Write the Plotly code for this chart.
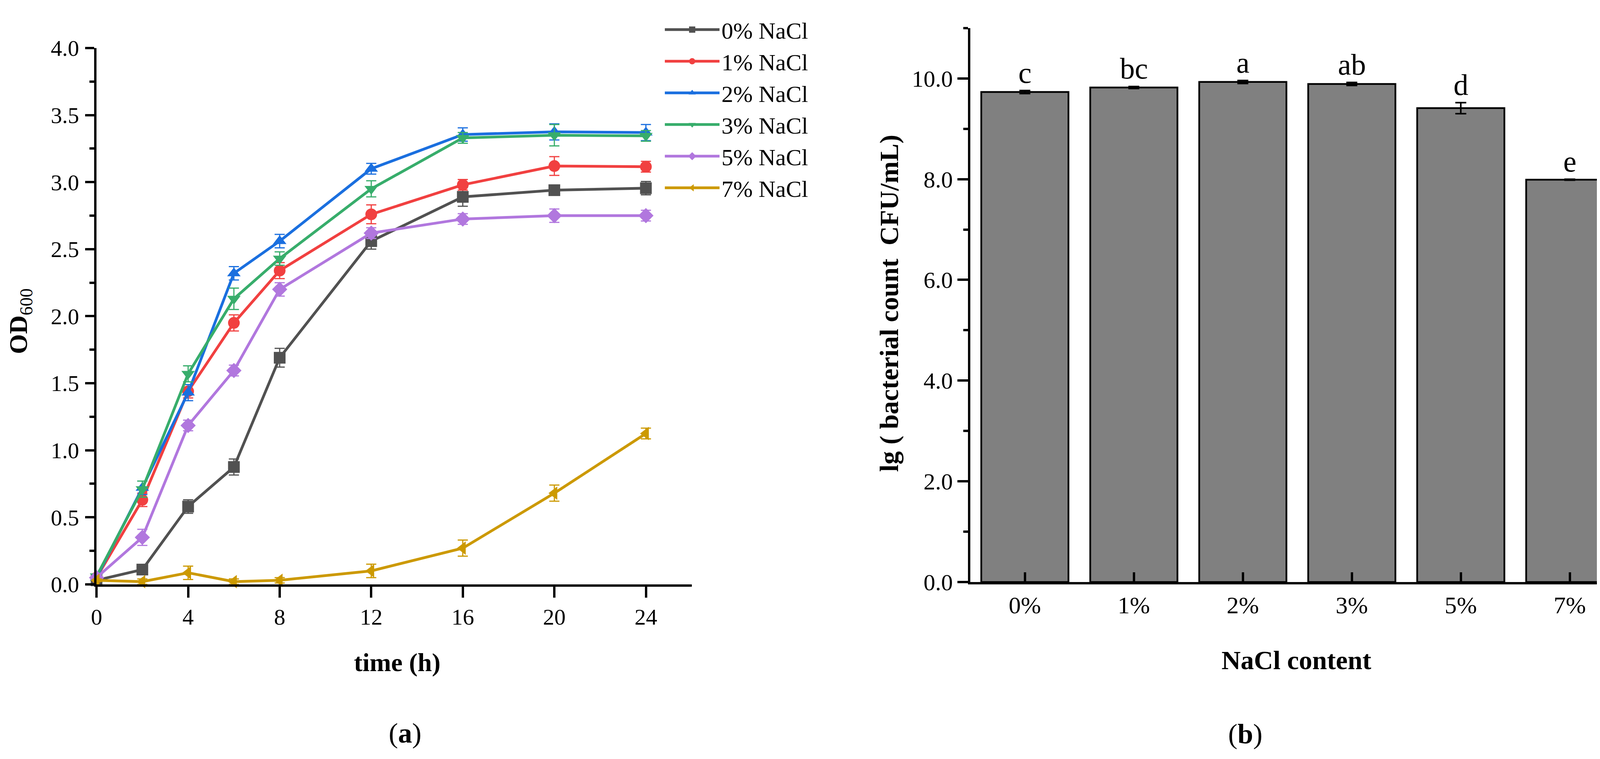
import plotly.graph_objects as go

# panel (a): growth curves, OD600 vs time
time_h = [0, 2, 4, 6, 8, 12, 16, 20, 24]
series_names = ['0% NaCl', '1% NaCl', '2% NaCl', '3% NaCl', '5% NaCl', '7% NaCl']

od_0 = [0.03, 0.11, 0.58, 0.875, 1.69, 2.56, 2.89, 2.94, 2.955]
od_1 = [0.05, 0.63, 1.44, 1.95, 2.34, 2.76, 2.98, 3.12, 3.115]
od_2 = [0.05, 0.72, 1.43, 2.32, 2.56, 3.10, 3.355, 3.375, 3.37]
od_3 = [0.06, 0.71, 1.57, 2.13, 2.43, 2.95, 3.33, 3.35, 3.345]
od_5 = [0.05, 0.35, 1.185, 1.595, 2.20, 2.62, 2.725, 2.75, 2.75]
od_7 = [0.03, 0.02, 0.086, 0.02, 0.03, 0.10, 0.27, 0.68, 1.125]

err_0 = [0.01, 0.03, 0.05, 0.06, 0.07, 0.06, 0.07, 0.03, 0.05]
err_1 = [0.01, 0.05, 0.05, 0.06, 0.06, 0.07, 0.04, 0.07, 0.04]
err_2 = [0.01, 0.05, 0.06, 0.05, 0.05, 0.04, 0.05, 0.06, 0.06]
err_3 = [0.01, 0.06, 0.06, 0.08, 0.05, 0.06, 0.04, 0.08, 0.04]
err_5 = [0.01, 0.06, 0.04, 0.04, 0.05, 0.04, 0.04, 0.05, 0.04]
err_7 = [0.01, 0.02, 0.05, 0.02, 0.02, 0.05, 0.06, 0.06, 0.04]

# panel (b): viable counts
nacl_labels = ['0%', '1%', '2%', '3%', '5%', '7%']
lg_count = [9.73, 9.82, 9.93, 9.89, 9.41, 7.99]
lg_err = [0.03, 0.02, 0.03, 0.03, 0.11, 0.01]
sig_letters = ['c', 'bc', 'a', 'ab', 'd', 'e']

FONT = 'Liberation Serif, Times New Roman, serif'
colors = ['#515151', '#F14040', '#1A6FDF', '#37AD6B', '#B177DE', '#CC9900']
symbols = ['square', 'circle', 'triangle-up', 'triangle-down', 'diamond', 'triangle-left']

W, H = 4178, 1943
PAGE_OFF = 8  # default body margin of the html page


def px(x):
    return (x - PAGE_OFF) / W


def py(y):
    return 1 - (y - PAGE_OFF) / H


fig = go.Figure()

od_series = [od_0, od_1, od_2, od_3, od_5, od_7]
err_series = [err_0, err_1, err_2, err_3, err_5, err_7]
for name, ys, es, col, sym in zip(series_names, od_series, err_series, colors, symbols):
    fig.add_trace(go.Scatter(
        x=time_h, y=ys, name=name, mode='lines+markers',
        line=dict(color=col, width=7),
        marker=dict(symbol=sym, size=30, color=col),
        error_y=dict(type='data', array=es, color=col, thickness=3, width=13),
        cliponaxis=False,
        xaxis='x', yaxis='y',
    ))

fig.add_trace(go.Bar(
    x=nacl_labels, y=lg_count, width=0.8,
    marker=dict(color='#808080', line=dict(color='black', width=4.5)),
    error_y=dict(type='data', array=lg_err, color='black', thickness=4, width=14),
    showlegend=False, xaxis='x2', yaxis='y2',
))

tick_font = dict(family=FONT, size=58, color='black')
axis_common = dict(
    showline=True, linecolor='black', linewidth=6, showgrid=False, zeroline=False,
    tickcolor='black', tickwidth=6, tickfont=tick_font,
)

fig.update_layout(
    width=W, height=H,
    margin=dict(l=0, r=0, t=0, b=0),
    paper_bgcolor='white', plot_bgcolor='white',
    font=dict(family=FONT, size=58, color='black'),
    xaxis=dict(axis_common, domain=[px(233), px(1762)], anchor='y',
               range=[0, 26], tickvals=[0, 4, 8, 12, 16, 20, 24],
               ticks='outside', ticklen=28),
    yaxis=dict(axis_common, domain=[py(1515), py(94)], anchor='x',
               range=[0, 4], dtick=0.5, tickformat='.1f',
               ticks='outside', ticklen=23, ticklabelstandoff=4,
               minor=dict(dtick=0.25, ticks='outside', ticklen=12, tickwidth=6, tickcolor='black')),
    xaxis2=dict(axis_common, domain=[px(2478), px(4158)], anchor='y2', type='category',
                range=[-0.5, 5.5], ticks='inside', ticklen=25,
                tickfont=dict(family=FONT, size=62, color='black')),
    yaxis2=dict(axis_common, domain=[py(1509), py(41)], anchor='x2',
                range=[0, 11], dtick=2, tickformat='.1f',
                ticks='outside', ticklen=27,
                tickfont=dict(family=FONT, size=60, color='black'),
                minor=dict(dtick=1, ticks='outside', ticklen=12, tickwidth=6, tickcolor='black')),
    legend=dict(x=px(1688), y=py(-2), xanchor='left', yanchor='top',
                bgcolor='rgba(0,0,0,0)', itemwidth=140, tracegroupgap=0,
                font=dict(family=FONT, size=60, color='black')),
)

annotations = [
    dict(text='<b>time (h)</b>', x=1006, y=1722, size=66),
    dict(text='<b>OD</b><sub>600</sub>', x=37, y=818, size=66, angle=-90),
    dict(text='(<b>a</b>)', x=1026, y=1910, size=72),
    dict(text='<b>NaCl content</b>', x=3316, y=1716, size=68),
    dict(text='<b>lg ( bacterial count&nbsp; CFU/mL)</b>', x=2269, y=770, size=68, angle=-90),
    dict(text='(<b>b</b>)', x=3184, y=1912, size=72),
]
for a in annotations:
    fig.add_annotation(text=a['text'], x=px(a['x']), y=py(a['y']), xref='paper', yref='paper',
                       xanchor='center', yanchor='middle', showarrow=False,
                       textangle=a.get('angle', 0),
                       font=dict(family=FONT, size=a['size'], color='black'))

# significance letters above each bar
for i, (val, err, letter) in enumerate(zip(lg_count, lg_err, sig_letters)):
    fig.add_annotation(text=letter, x=i, y=val + err, xref='x2', yref='y2',
                       xanchor='center', yanchor='bottom', showarrow=False, yshift=2,
                       font=dict(family=FONT, size=76, color='black'))

fig.write_html('out.html')
